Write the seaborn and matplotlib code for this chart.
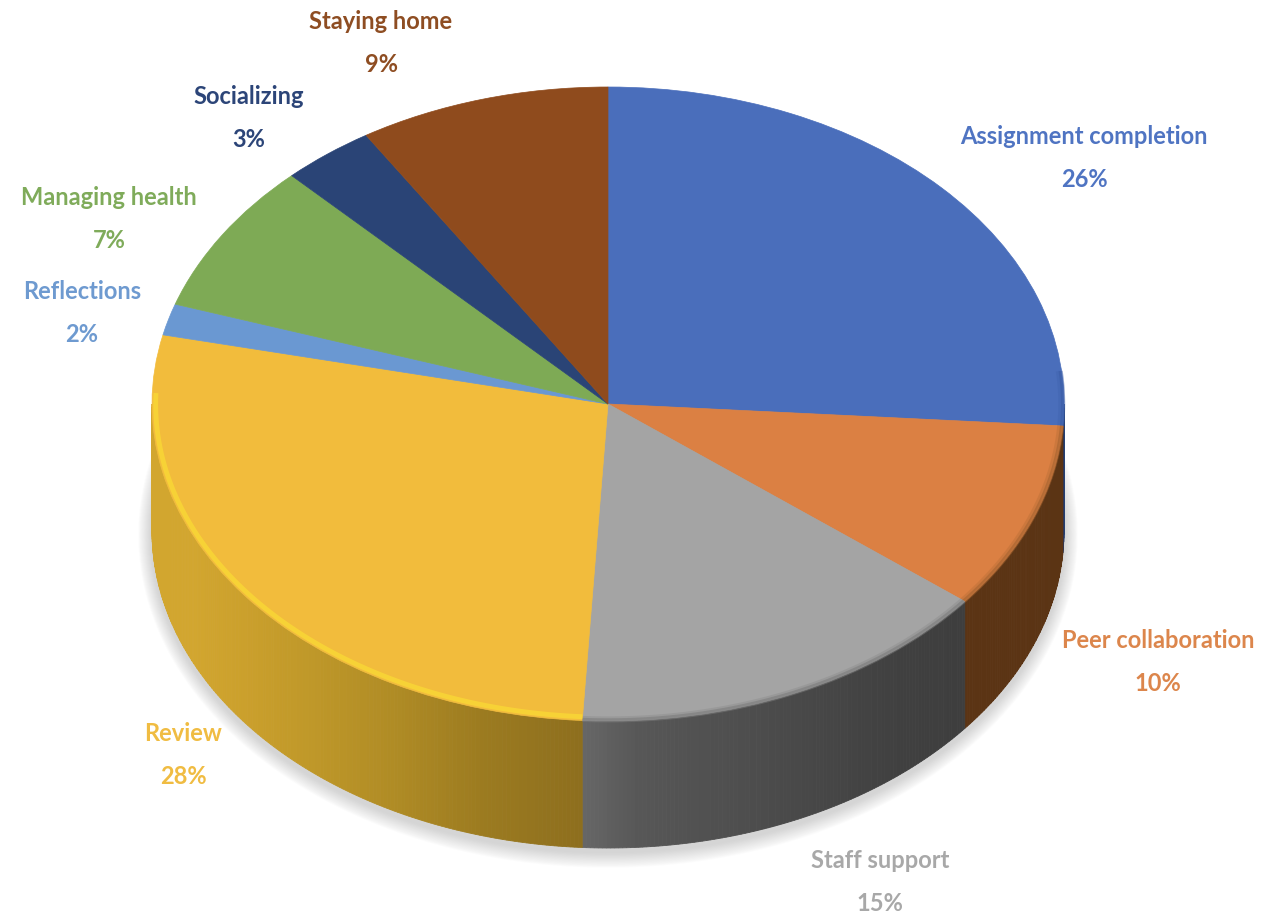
import numpy as np
import matplotlib
matplotlib.use("Agg")
import matplotlib.pyplot as plt
import seaborn as sns

sns.set_theme(style="white")
plt.rcParams['font.family'] = ['Lato', 'DejaVu Sans']

categories = ['Assignment completion', 'Peer collaboration', 'Staff support', 'Review',
              'Reflections', 'Managing health', 'Socializing', 'Staying home']
percent_labels = [26, 10, 15, 28, 2, 7, 3, 9]
# slice sizes as they appear on the picture (the perspective shifts them a little)
slice_sizes = [26.1, 9.6, 15.2, 27.6, 1.6, 7.7, 3.3, 8.9]

top_colors = ['#4A6EBB', '#DB8043', '#A4A4A4', '#F2BC3C', '#6A98D2', '#7EAA55', '#2A4476', '#8F4B1D']
text_colors = ['#4F74C2', '#DC864C', '#A8A8A8', '#F0BC42', '#6E9AD0', '#7FAB5A', '#2C4578', '#8E4D22']
# wall shades run from the right end of each slice to its left end
wall_colors = [['#1F3A70', '#1F3A70'], ['#5B3414', '#5B3414'],
               ['#3E3E3E', '#3F3F3F', '#414141', '#454545', '#494949', '#4E4E4E', '#525252', '#575757', '#666666'],
               ['#8E6F1E', '#9C7B20', '#B08C25', '#BF9829', '#CBA02C', '#D2A62F', '#D2A62F', '#D2A62F'],
               ['#D2A62F', '#D2A62F'], ['#5F8A3E', '#5F8A3E'], ['#1F3560', '#1F3560'], ['#6B3815', '#6B3815']]
rim_colors = ['#3A5CA5', '#A2622F', '#7A7A7A', '#F9D835', '#6A98D2', '#7EAA55', '#2A4476', '#8F4B1D']

label_x = [1084, 1158, 880, 183, 82, 109, 249, 381]
label_y = [158, 662, 882, 755, 313, 219, 118, 43]

# pixel geometry of the disc
cx, cy, rx, ry = 608, 404, 456, 317
depth = 127 / ry


def to_data(px, py):
    return (px - cx) / rx, (cy - py) / ry


fig = plt.figure(figsize=(12.78, 9.17), dpi=100, facecolor='white')
ax = fig.add_axes([0, 0, 1, 1])

# soft shadow below the wall
t = np.linspace(0, 2 * np.pi, 300)
for grow in np.linspace(0.05, 0.004, 14):
    ax.fill((1 + grow * 0.6) * np.cos(t), (1 + grow) * np.sin(t) - depth - 0.012,
            color='#9A9A9A', alpha=0.03, lw=0, zorder=1)

# side wall, thin strips along the front of the disc
edges = 90 - 360 * np.cumsum([0] + slice_sizes) / np.sum(slice_sizes)
for i in range(len(slice_sizes)):
    lo = max(edges[i + 1], -180)
    hi = min(edges[i], 0)
    if hi <= lo:
        continue
    n = max(int(hi - lo) * 2, 2)
    shades = sns.blend_palette(wall_colors[i], n_colors=n)
    steps = np.linspace(hi, lo, n + 1)
    for k in range(n):
        th = np.radians(np.linspace(steps[k], steps[k + 1], 4))
        x = np.cos(th)
        y = np.sin(th)
        ax.fill(np.r_[x, x[::-1]], np.r_[y, y[::-1] - depth], color=shades[k], lw=0.6, zorder=2)

# top of the pie
wedges, _ = ax.pie(slice_sizes, colors=top_colors, startangle=90, counterclock=False, radius=1,
                   wedgeprops={'linewidth': 0, 'zorder': 4})
for wedge, colour in zip(wedges, top_colors):
    wedge.set_edgecolor(colour)
    wedge.set_linewidth(0.5)

# bevel along the front rim
for i in range(len(slice_sizes)):
    lo = max(edges[i + 1], -182)
    hi = min(edges[i], 6)
    if hi <= lo:
        continue
    th = np.radians(np.linspace(hi, lo, 80))
    if i == 3:
        ax.plot(0.992 * np.cos(th), 0.988 * np.sin(th), color=rim_colors[i], lw=3.5, alpha=0.8,
                solid_capstyle='butt', zorder=5)
    else:
        for scale, width, alpha in [(0.998, 3, 0.55), (0.992, 3, 0.25)]:
            ax.plot(scale * np.cos(th), scale * np.sin(th), color=rim_colors[i], lw=width,
                    alpha=alpha, solid_capstyle='butt', zorder=5)

for name, pct, colour, px, py in zip(categories, percent_labels, text_colors, label_x, label_y):
    tx, ty = to_data(px, py)
    ax.text(tx, ty, f'{name}\n{pct}%', color=colour, fontsize=17, fontweight='bold',
            ha='center', va='center', linespacing=2.1, zorder=6)

ax.set_aspect('auto')
ax.set_xlim(to_data(0, 0)[0], to_data(1278, 0)[0])
ax.set_ylim(to_data(0, 917)[1], to_data(0, 0)[1])
ax.axis('off')
fig.savefig('out.png', dpi=100, facecolor='white')
